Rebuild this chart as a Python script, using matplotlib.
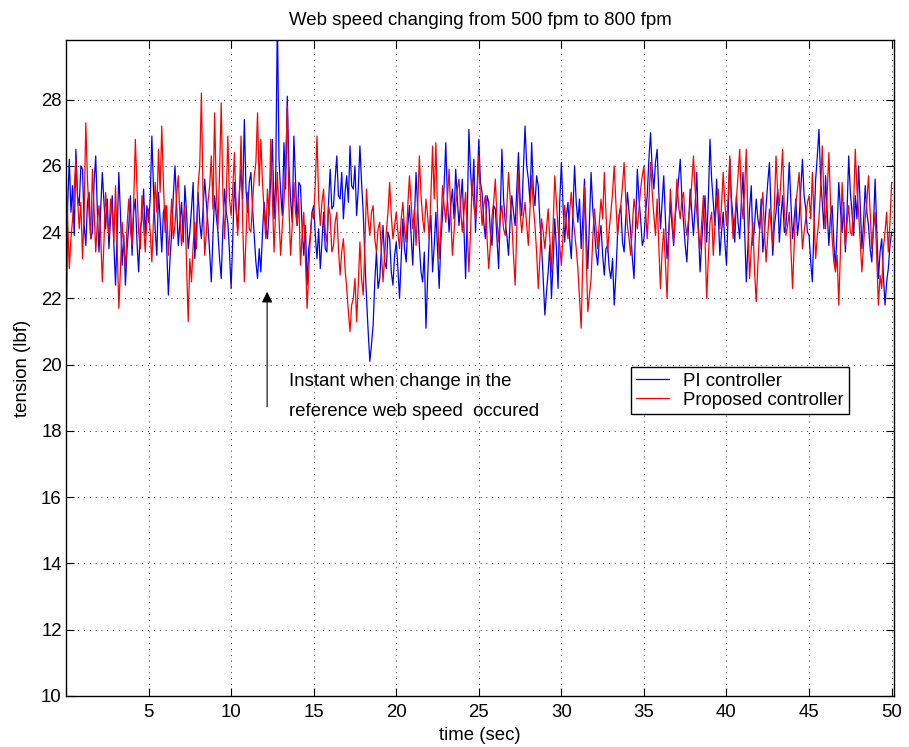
import numpy as np
import matplotlib
matplotlib.use("Agg")
import matplotlib.pyplot as plt

# sample period of the logged tension signals (sec)
dt = 0.1

# PI controller tension (lbf), one row per 5 s
pi_tension = [
    20.0, 24.8, 26.2, 24.6, 25.4, 23.9, 26.5, 25.1, 24.8, 26.0, 25.9, 24.2, 23.6, 24.9, 25.2, 23.8, 24.0, 25.5, 26.3, 24.6, 23.4, 24.7, 25.8, 24.9, 24.1, 25.0, 23.5, 24.4, 25.1, 23.6, 22.4, 24.0, 25.8, 24.5, 23.0, 23.9, 22.4, 23.5, 24.2, 25.1, 23.3, 24.6, 25.0, 23.7, 22.8, 24.1, 24.4, 25.3, 23.9, 24.8,
    24.3, 25.0, 26.9, 25.3, 24.1, 23.3, 25.2, 24.4, 23.4, 24.6, 24.8, 23.5, 22.1, 23.2, 24.0, 25.1, 26.0, 24.8, 23.6, 24.3, 24.9, 23.7, 25.4, 24.6, 23.5, 24.0, 24.7, 25.5, 23.2, 24.1, 25.2, 24.3, 23.8, 24.7, 25.6, 24.9, 24.2, 23.4, 22.5, 23.9, 25.1, 24.5, 24.0, 23.2, 22.6, 24.1, 25.3, 24.6, 24.3, 23.4,
    22.3, 23.8, 25.5, 24.7, 24.1, 25.2, 25.9, 25.0, 27.4, 25.3, 24.6, 25.5, 25.8, 24.7, 23.9, 23.1, 22.6, 23.5, 22.8, 24.0, 24.9, 24.2, 23.8, 24.6, 25.6, 26.8, 24.4, 25.6, 30.5, 26.2, 25.2, 24.5, 26.7, 25.3, 28.1, 26.0, 25.0, 24.3, 26.9, 25.6, 24.2, 25.5, 25.4, 24.1, 23.3, 24.2, 22.4, 23.5, 23.9, 24.6,
    24.8, 23.9, 23.2, 24.1, 22.9, 23.7, 24.6, 23.5, 23.4, 24.9, 25.9, 24.7, 24.8, 25.6, 26.3, 25.1, 25.0, 25.8, 24.4, 25.2, 25.7, 24.9, 26.6, 25.4, 25.3, 26.0, 24.5, 25.3, 26.6, 25.5, 24.6, 23.2, 22.0, 21.0, 20.1, 20.6, 21.2, 22.5, 23.4, 22.3, 22.6, 23.5, 24.2, 23.1, 22.9, 24.0, 23.8, 22.8, 22.4, 23.3,
    23.7, 22.9, 22.0, 23.2, 24.4, 23.5, 23.1, 24.2, 24.8, 23.9, 23.0, 24.4, 25.8, 24.7, 23.6, 22.8, 22.5, 23.4, 21.1, 22.6, 23.9, 24.5, 22.8, 23.6, 24.6, 23.5, 22.3, 23.7, 24.5, 25.4, 26.7, 25.0, 24.0, 24.8, 25.3, 24.4, 25.9, 25.0, 24.2, 24.9, 25.6, 24.1, 22.6, 24.5, 27.1, 25.8, 25.1, 26.2, 24.0, 25.3,
    26.8, 25.5, 25.2, 24.3, 23.8, 25.1, 24.9, 24.0, 23.6, 24.8, 24.7, 23.8, 22.9, 24.6, 26.5, 25.0, 24.3, 23.9, 23.3, 24.4, 25.1, 24.6, 24.2, 25.3, 26.4, 25.0, 24.5, 25.9, 27.2, 26.0, 25.6, 24.9, 26.7, 25.3, 24.8, 25.7, 25.4, 24.3, 23.6, 22.6, 21.5, 22.2, 22.8, 23.6, 22.0, 23.1, 24.4, 23.5, 22.3, 24.9,
    26.1, 24.8, 23.7, 24.5, 24.9, 23.8, 23.2, 24.6, 26.0, 24.9, 24.3, 25.0, 23.5, 24.4, 25.6, 24.1, 22.9, 24.3, 25.8, 24.7, 24.1, 23.4, 23.0, 23.8, 24.2, 23.3, 22.7, 23.5, 23.6, 22.9, 22.6, 23.2, 21.8, 22.7, 23.9, 24.5, 24.8, 23.7, 23.4, 24.4, 25.2, 24.6, 24.0, 23.2, 22.6, 24.3, 25.9, 25.0, 24.4, 23.6,
    23.8, 24.6, 25.1, 26.2, 27.0, 25.9, 25.3, 26.1, 26.5, 25.2, 24.1, 24.9, 25.7, 24.4, 23.2, 24.0, 24.9, 24.2, 23.6, 24.5, 25.0, 25.6, 26.2, 25.0, 24.3, 23.6, 23.1, 24.2, 25.3, 24.6, 23.9, 24.8, 25.8, 24.1, 22.8, 23.7, 24.5, 25.1, 23.7, 25.0, 26.8, 25.6, 24.9, 24.2, 25.6, 24.5, 23.3, 24.0, 24.6, 23.7,
    23.0, 24.5, 26.2, 25.0, 24.4, 23.7, 25.1, 24.3, 23.8, 24.9, 25.8, 24.0, 22.5, 23.6, 24.7, 25.4, 23.6, 24.2, 25.0, 24.4, 24.1, 25.0, 23.4, 24.0, 24.8, 25.5, 26.1, 24.6, 23.3, 24.2, 24.6, 25.3, 23.7, 24.5, 25.1, 24.0, 24.2, 25.0, 26.1, 24.9, 23.8, 24.4, 25.0, 23.9, 24.4, 25.3, 26.2, 25.1, 24.7, 24.0,
    23.9, 23.1, 22.5, 24.2, 25.6, 26.3, 27.1, 25.6, 24.9, 24.1, 25.7, 24.6, 23.6, 24.5, 24.8, 23.7, 22.9, 24.1, 25.5, 24.7, 24.0, 24.9, 23.4, 24.6, 26.3, 25.2, 24.6, 23.9, 25.1, 24.4, 26.0, 24.8, 23.5, 24.3, 25.4, 24.6, 24.2, 23.5, 23.1, 24.2, 25.6, 24.1, 22.6, 23.4, 23.8, 22.7, 21.8, 22.5, 22.9, 23.6,
    24.0,
]

# proposed controller tension (lbf), same sampling
proposed_tension = [
    25.8, 24.3, 22.9, 23.8, 24.4, 25.3, 26.2, 25.0, 24.1, 24.9, 23.2, 24.6, 27.3, 25.6, 24.5, 23.8, 25.9, 24.7, 23.4, 24.3, 24.8, 23.9, 22.5, 23.7, 25.2, 24.4, 23.9, 25.0, 24.6, 23.7, 25.4, 23.5, 21.7, 22.9, 24.3, 23.6, 22.9, 24.2, 25.0, 24.1, 23.6, 24.9, 26.8, 25.3, 24.0, 23.5, 25.1, 24.2, 23.4, 24.5,
    24.7, 24.0, 23.1, 24.4, 25.5, 24.6, 26.5, 25.2, 27.2, 25.5, 24.0, 24.8, 23.3, 24.1, 25.0, 23.8, 24.2, 25.1, 25.7, 24.5, 23.6, 24.2, 24.8, 23.0, 21.3, 23.2, 22.5, 23.6, 24.3, 23.5, 25.4, 26.0, 28.2, 25.1, 23.3, 24.0, 24.9, 25.4, 26.3, 24.7, 27.6, 25.3, 24.1, 25.8, 27.9, 25.2, 23.8, 24.9, 26.9, 25.0,
    24.5, 25.3, 26.4, 24.8, 23.9, 25.0, 26.9, 24.3, 22.5, 23.8, 25.2, 24.1, 24.0, 24.9, 25.7, 26.1, 27.6, 25.4, 26.8, 25.5, 24.6, 23.8, 25.3, 24.5, 26.8, 25.0, 23.4, 24.7, 25.8, 24.4, 23.3, 24.2, 24.9, 26.0, 27.8, 24.8, 23.3, 24.2, 25.5, 24.6, 24.2, 25.0, 23.0, 23.9, 24.6, 23.2, 21.7, 22.8, 23.9, 24.6,
    24.4, 25.5, 26.9, 25.0, 24.2, 24.9, 25.3, 24.0, 23.7, 24.8, 24.5, 23.4, 23.6, 24.3, 24.6, 23.5, 22.7, 23.4, 23.8, 22.9, 22.3, 21.6, 21.0, 21.8, 22.0, 22.6, 21.3, 22.4, 23.7, 22.6, 22.1, 23.6, 25.3, 24.4, 23.9, 24.6, 24.8, 23.8, 23.4, 24.1, 24.3, 23.4, 22.5, 23.3, 24.0, 24.6, 25.5, 24.5, 23.8, 24.2,
    24.6, 24.0, 23.5, 24.4, 24.9, 24.1, 23.7, 24.8, 25.7, 24.9, 24.1, 24.7, 23.6, 24.8, 26.3, 25.1, 24.4, 24.0, 25.0, 24.5, 23.8, 25.1, 26.6, 25.0, 26.7, 24.6, 23.2, 24.1, 25.4, 24.8, 24.3, 25.0, 25.9, 24.6, 23.3, 24.0, 24.8, 25.3, 25.6, 24.7, 24.0, 24.6, 25.2, 24.1, 22.8, 24.0, 25.6, 24.8, 24.4, 25.2,
    26.3, 25.0, 24.2, 24.8, 25.1, 23.8, 22.9, 23.6, 24.5, 24.9, 25.6, 24.4, 23.7, 24.5, 24.8, 24.1, 23.9, 24.8, 25.8, 25.0, 24.3, 23.3, 22.4, 24.1, 25.8, 24.6, 24.0, 24.5, 24.9, 24.2, 23.6, 24.7, 25.7, 24.8, 24.2, 23.4, 22.3, 23.2, 24.4, 24.0, 23.5, 24.1, 24.7, 23.8, 22.8, 24.2, 25.7, 24.9, 24.1, 23.6,
    23.0, 23.9, 24.8, 24.2, 23.8, 24.6, 25.2, 24.5, 24.0, 23.5, 22.9, 22.0, 21.1, 23.2, 25.4, 23.4, 21.6, 22.1, 22.6, 23.8, 24.7, 24.1, 23.5, 24.3, 25.0, 24.4, 25.8, 24.6, 23.4, 24.1, 24.6, 25.2, 26.0, 24.9, 23.9, 24.5, 24.8, 25.4, 26.1, 25.0, 24.2, 23.8, 23.3, 24.2, 25.0, 24.6, 24.1, 24.7, 25.3, 25.7,
    26.0, 24.7, 23.8, 24.9, 26.1, 25.2, 24.5, 23.9, 25.0, 23.6, 22.3, 23.4, 24.1, 23.1, 22.0, 23.7, 25.3, 24.5, 23.7, 24.6, 25.6, 24.8, 24.4, 25.0, 25.2, 24.3, 23.9, 24.4, 24.8, 25.5, 26.3, 25.3, 24.6, 24.0, 23.5, 24.3, 25.1, 23.8, 22.0, 23.2, 24.3, 24.6, 23.3, 24.2, 24.9, 25.3, 24.1, 24.8, 25.8, 24.9,
    24.2, 25.1, 26.3, 24.7, 23.8, 24.4, 25.0, 25.7, 26.5, 25.0, 24.4, 25.3, 26.5, 24.3, 22.6, 23.5, 24.3, 22.8, 21.9, 23.0, 24.0, 24.6, 25.2, 24.0, 23.1, 23.9, 24.7, 24.2, 23.6, 24.8, 26.3, 25.2, 24.8, 25.6, 26.5, 24.7, 23.9, 24.2, 24.6, 23.5, 22.3, 23.6, 24.9, 25.3, 25.8, 24.6, 23.5, 24.0, 24.4, 24.9,
    25.1, 24.4, 25.8, 24.5, 23.2, 23.9, 24.4, 25.3, 26.6, 25.0, 24.1, 25.2, 26.4, 24.9, 23.8, 23.1, 22.8, 23.3, 21.8, 23.4, 25.5, 24.5, 23.6, 24.3, 24.8, 24.0, 23.9, 24.9, 26.5, 25.3, 24.6, 23.7, 22.8, 23.6, 24.4, 24.9, 25.7, 24.6, 23.5, 24.1, 24.6, 23.2, 21.8, 22.7, 22.3, 23.5, 24.0, 24.6, 23.4, 24.3,
    25.5,
]

assert len(pi_tension) == len(proposed_tension), (len(pi_tension), len(proposed_tension))

time = np.arange(len(pi_tension)) * dt
y_ticks = [10, 12, 14, 16, 18, 20, 22, 24, 26, 28]
x_ticks = [5, 10, 15, 20, 25, 30, 35, 40, 45, 50]

plt.rcParams['font.family'] = ['Liberation Sans', 'DejaVu Sans']
fs = 13.4

fig = plt.figure(figsize=(9.09, 7.47), dpi=100)
ax = fig.add_axes([0.0726, 0.0683, 0.9110, 0.8782])

ax.plot(time, pi_tension, color='#0000ff', lw=0.9, label='PI controller')
ax.plot(time, proposed_tension, color='#ff0000', lw=0.9, label='Proposed controller')

ax.set_xlim(0, 50.15)
ax.set_ylim(10, 29.8)
ax.set_xticks(x_ticks)
ax.set_yticks(y_ticks)
ax.tick_params(direction='in', length=6, width=0.8, top=True, right=True, labelsize=fs)
ax.tick_params(axis='x', pad=6)
ax.tick_params(axis='y', pad=3)
ax.grid(True, color='black', linestyle=(0, (0.8, 5.2)), linewidth=0.7)
for s in ax.spines.values():
    s.set_linewidth(1.0)

ax.set_title('Web speed changing from 500 fpm to 800 fpm', fontsize=fs, pad=11)
ax.set_xlabel('time (sec)', fontsize=fs, labelpad=4)
ax.set_ylabel('tension (lbf)', fontsize=fs, labelpad=7)

# arrow marking the speed step
ax.annotate('', xy=(12.18, 22.2), xytext=(12.18, 18.73),
            arrowprops=dict(arrowstyle='-|>', color='black', lw=0.8,
                            mutation_scale=16, shrinkA=0, shrinkB=0))
ax.text(13.53, 19.04, 'Instant when change in the\nreference web speed  occured',
        fontsize=fs, ha='left', va='center', linespacing=2.0)

leg = ax.legend(loc='upper left', bbox_to_anchor=(0.682, 0.5015), fontsize=fs,
                fancybox=False, framealpha=1, edgecolor='black',
                handlelength=1.75, handletextpad=0.75, labelspacing=0.12,
                borderpad=0.3, borderaxespad=0)
leg.get_frame().set_linewidth(1.0)

fig.savefig('out.png', dpi=100)
